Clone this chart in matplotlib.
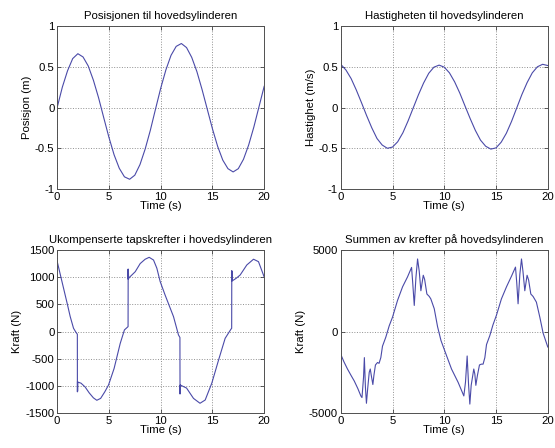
import numpy as np
import matplotlib
matplotlib.use("Agg")
import matplotlib.pyplot as plt

plt.rcParams['font.family'] = ['Liberation Sans', 'DejaVu Sans']
plt.rcParams['font.size'] = 8.2

# Tidsakse for posisjon og hastighet
t_pv = [0, 0.5, 1, 1.5, 2, 2.5, 3, 3.5, 4, 4.5, 5, 5.5, 6, 6.5, 7, 7.5, 8, 8.5, 9, 9.5,
        10, 10.5, 11, 11.5, 12, 12.5, 13, 13.5, 14, 14.5, 15, 15.5, 16, 16.5, 17, 17.5,
        18, 18.5, 19, 19.5, 20]

posisjon = [0.0, 0.25, 0.45, 0.6, 0.66, 0.62, 0.51, 0.335, 0.12, -0.125, -0.365, -0.58,
            -0.745, -0.85, -0.88, -0.83, -0.70, -0.51, -0.28, -0.02, 0.235, 0.46, 0.64,
            0.75, 0.785, 0.735, 0.615, 0.44, 0.22, -0.02, -0.26, -0.475, -0.645, -0.75,
            -0.79, -0.75, -0.635, -0.46, -0.24, 0.01, 0.26]

hastighet = [0.53, 0.46, 0.355, 0.215, 0.06, -0.1, -0.25, -0.38, -0.46, -0.5, -0.485,
             -0.42, -0.31, -0.165, -0.005, 0.155, 0.3, 0.42, 0.495, 0.52, 0.495, 0.425,
             0.315, 0.177, 0.02, -0.135, -0.28, -0.4, -0.475, -0.51, -0.495, -0.425,
             -0.315, -0.17, -0.005, 0.16, 0.305, 0.425, 0.5, 0.53, 0.515]

# Ukompenserte tapskrefter
t_tap = [0, 0.25, 0.5, 0.75, 1.0, 1.26, 1.58, 1.8, 1.95, 1.955, 1.965, 1.975, 1.99,
         2.3, 2.7, 3.1, 3.5, 3.83, 4.2, 4.6, 4.96, 5.5, 6.09, 6.5, 6.85, 6.86, 6.87,
         6.88, 6.9, 7.0, 7.54, 8.02, 8.5, 8.89, 9.31, 9.63, 9.95, 10.43, 11.24, 11.72,
         11.86, 11.87, 11.88, 11.89, 11.9, 12.5, 13.17, 13.8, 14.3, 14.94, 15.6, 16.23,
         16.78, 16.86, 16.87, 16.88, 16.89, 16.9, 17.3, 17.68, 18.32, 18.97, 19.45,
         19.93, 20]
kraft_tap = [1290, 1090, 890, 690, 490, 275, 60, -10, -50, -1110, -920, -1100, -930,
             -950, -1020, -1130, -1220, -1265, -1230, -1110, -985, -680, -220, 30, 90,
             1150, 960, 1140, 975, 1000, 1100, 1250, 1330, 1365, 1315, 1165, 920, 670,
             274, -63, -110, -1150, -990, -1140, -985, -1040, -1230, -1320, -1260, -950,
             -520, -125, 40, 60, 1120, 936, 1100, 930, 980, 1040, 1224, 1330, 1285,
             1040, 1000]

# Summen av krefter
t_sum = [0, 0.3, 0.65, 1.0, 1.3, 1.65, 1.94, 2.05, 2.2, 2.28, 2.38, 2.48, 2.6, 2.75,
         2.85, 2.95, 3.1, 3.2, 3.35, 3.55, 3.7, 3.87, 4.03, 4.35, 4.68, 5.0, 5.48, 5.97,
         6.45, 6.84, 6.95, 7.1, 7.26, 7.42, 7.58, 7.74, 7.97, 8.1, 8.32, 8.55, 8.7,
         9.03, 9.35, 9.68, 10.16, 10.7, 11.34, 11.89, 12.05, 12.21, 12.35, 12.47, 12.6,
         12.85, 12.95, 13.05, 13.2, 13.4, 13.59, 13.75, 13.92, 14.08, 14.4, 14.7, 15.04,
         15.52, 16.01, 16.49, 16.88, 17.0, 17.13, 17.3, 17.46, 17.6, 17.78, 18.0, 18.15,
         18.36, 18.58, 18.9, 19.23, 19.55, 20.0]
kraft_sum = [-1400, -1850, -2300, -2700, -3030, -3500, -3950, -4050, -2800, -1600,
             -3400, -4400, -3500, -2500, -2300, -2700, -3250, -2700, -2050, -1900,
             -1950, -1600, -900, -350, 350, 880, 1900, 2740, 3350, 3930, 3000, 1600,
             3300, 4450, 3700, 2500, 3450, 3200, 2300, 2150, 2000, 1400, 300, -550,
             -1380, -2300, -3120, -3950, -3100, -1500, -3300, -4450, -3300, -2300,
             -2600, -3300, -2700, -2050, -2000, -2000, -1600, -800, -250, 400, 1000,
             2000, 2740, 3390, 3950, 3000, 1700, 3500, 4450, 3700, 2500, 3450, 3150,
             2300, 2150, 1800, 880, -100, -950]

linjefarge = '#4a4aa8'

fig = plt.figure(figsize=(5.55, 4.48), dpi=100)

# Plassering av aksene (venstre, bunn, bredde, høyde)
rects = [[0.103, 0.578, 0.373, 0.364],
         [0.614, 0.578, 0.373, 0.364],
         [0.103, 0.078, 0.373, 0.364],
         [0.614, 0.078, 0.373, 0.364]]

plott = [
    (t_pv, posisjon, "Posisjonen til hovedsylinderen", "Posisjon (m)",
     (-1, 1), [-1, -0.5, 0, 0.5, 1], ['-1', '-0.5', '0', '0.5', '1']),
    (t_pv, hastighet, "Hastigheten til hovedsylinderen", "Hastighet (m/s)",
     (-1, 1), [-1, -0.5, 0, 0.5, 1], ['-1', '-0.5', '0', '0.5', '1']),
    (t_tap, kraft_tap, "Ukompenserte tapskrefter i hovedsylinderen", "Kraft (N)",
     (-1500, 1500), [-1500, -1000, -500, 0, 500, 1000, 1500],
     ['-1500', '-1000', '-500', '0', '500', '1000', '1500']),
    (t_sum, kraft_sum, "Summen av krefter på hovedsylinderen", "Kraft (N)",
     (-5000, 5000), [-5000, 0, 5000], ['-5000', '0', '5000']),
]

for rect, (tt, yy, tittel, ylab, ylim, yt, ytl) in zip(rects, plott):
    ax = fig.add_axes(rect)
    ax.plot(tt, yy, color=linjefarge, linewidth=0.8)
    ax.set_xlim(0, 20)
    ax.set_ylim(*ylim)
    ax.set_xticks([0, 5, 10, 15, 20])
    ax.set_yticks(yt)
    ax.set_yticklabels(ytl)
    ax.grid(True, linestyle=':', color='#909090', linewidth=0.7)
    ax.tick_params(direction='in', top=True, right=True, length=3, width=0.6,
                   color='#404040', pad=2)
    for s in ax.spines.values():
        s.set_color('#505050')
        s.set_linewidth(0.7)
    ax.set_title(tittel, fontsize=8.2, pad=5)
    ax.set_xlabel("Time (s)", labelpad=-0.5)
    ax.set_ylabel(ylab, labelpad=2)

fig.savefig("out.png", dpi=100)
